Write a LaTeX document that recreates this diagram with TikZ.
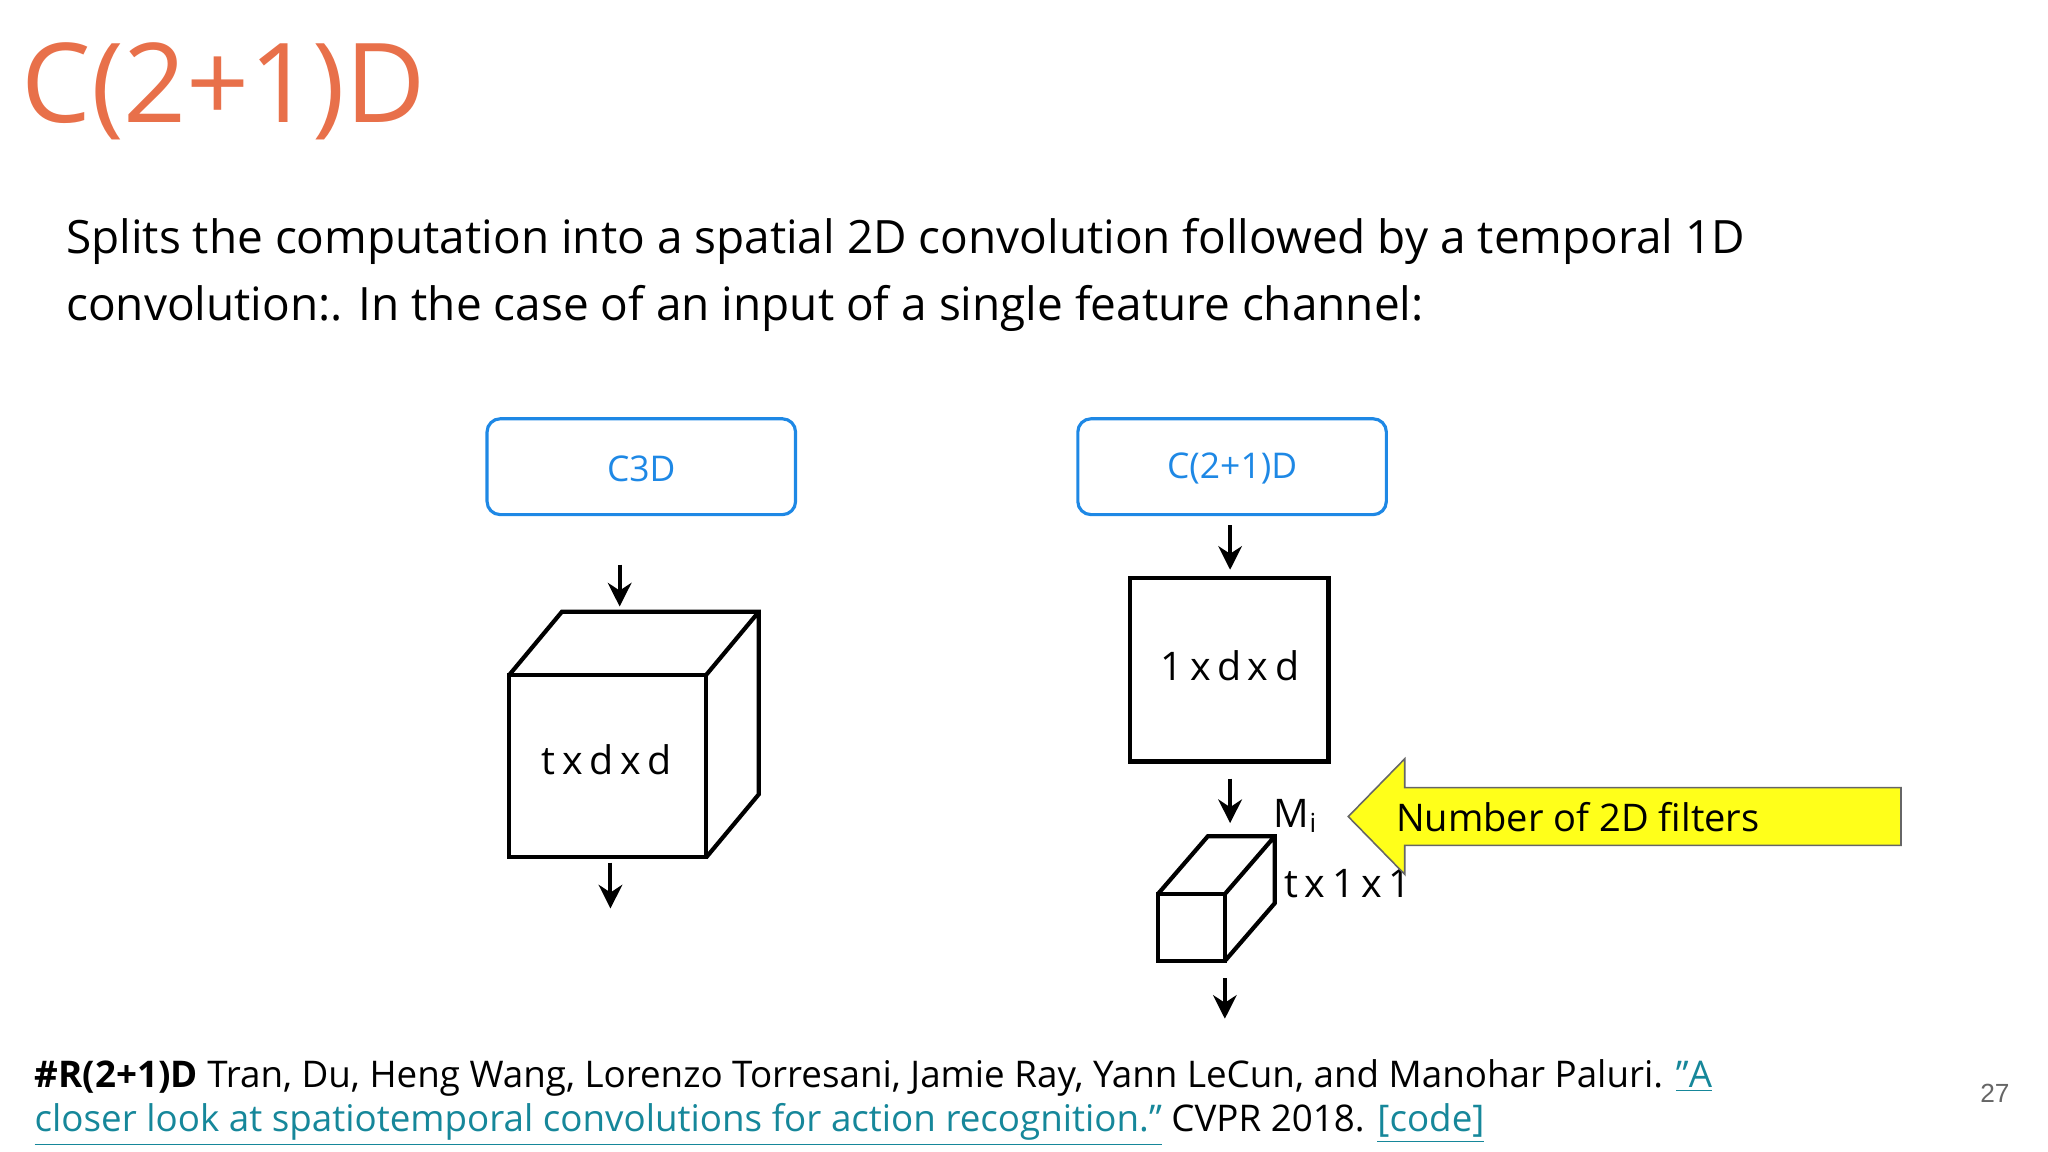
\documentclass[tikz,border=0pt]{standalone}
\usepackage{fontspec}
\setmainfont{Open Sans}
\newfontfamily\arialf{Liberation Sans}
\usetikzlibrary{arrows.meta}
\definecolor{titleor}{HTML}{E8704A}
\definecolor{boxblue}{HTML}{1E88E5}
\definecolor{linkc}{HTML}{16879A}
\definecolor{yel}{HTML}{FFFF1A}
\begin{document}
\begin{tikzpicture}[x=0.5pt,y=-0.5pt,
  lbox/.style={draw=boxblue,line width=1.2pt,rounded corners=5pt},
  flow/.style={line width=1.5pt,-{Stealth[length=9pt,width=9pt]}},
  cube/.style={line width=1.6pt,line join=miter},
  txt/.style={inner sep=0pt,anchor=base west}]
\useasboundingbox (0,0) rectangle (1560,877.5);
\node[txt,text=titleor,font=\fontsize{42}{50}\selectfont] (title) at (16,93) {C(2+1)D};
\node[txt,font=\fontsize{17.5}{21}\selectfont] (l1) at (50,193) {Splits the computation into a spatial 2D convolution followed by a temporal 1D};
\node[txt,font=\fontsize{17.5}{21}\selectfont] (l2) at (50,244) {convolution:. In the case of an input of a single feature channel:};
% boxes
\draw[lbox] (371,319) rectangle (606,392);
\node[text=boxblue,font=\fontsize{13.5}{16}\selectfont] (c3d) at (488.5,357) {C3D};
\draw[lbox] (821,319) rectangle (1056,392);
\node[text=boxblue,font=\fontsize{13.5}{16}\selectfont] (c21) at (938.5,357) {C(2+1)D};
% big cube
\draw[cube] (388,514) rectangle (538,653);
\draw[cube] (388,514) -- (428,466) -- (578,466) -- (578,605) -- (538,653) (538,514) -- (578,466);
\node[font=\fontsize{15}{18}\selectfont] (bt) at (462,579) {t\,x\,d\,x\,d};
\coordinate (a1s) at (472,430); \coordinate (a1e) at (472,462);
\coordinate (a2s) at (465,657); \coordinate (a2e) at (465,692);
\draw[flow] (a1s) -- (a1e);
\draw[flow] (a2s) -- (a2e);
% right
\coordinate (b1s) at (937,400); \coordinate (b1e) at (937,434);
\draw[flow] (b1s) -- (b1e);
\draw[cube] (861,440) rectangle (1012,580);
\node[font=\fontsize{15}{18}\selectfont] (sq) at (937,507) {1\,x\,d\,x\,d};
\coordinate (b2s) at (937,593); \coordinate (b2e) at (937,627);
\draw[flow] (b2s) -- (b2e);
\node[txt,font=\fontsize{15}{18}\selectfont] (mi) at (970,630) {M\raisebox{-0.15em}{\fontsize{10}{12}\selectfont i}};
\draw[cube] (882,681) rectangle (933,732);
\draw[cube] (882,681) -- (920,637) -- (971,637) -- (971,688) -- (933,732) (933,681) -- (971,637);
\node[txt,font=\fontsize{15}{18}\selectfont] (t11) at (978,684) {t\,x\,1\,x\,1};
\coordinate (b3s) at (933,745); \coordinate (b3e) at (933,776);
\draw[flow] (b3s) -- (b3e);
% yellow arrow
\draw[fill=yel,draw=black!60,line width=0.6pt] (1448,600) -- (1070,600) -- (1070,578) -- (1027,622) -- (1070,666) -- (1070,644) -- (1448,644) -- cycle;
\node[txt,font=\fontsize{14.5}{17}\selectfont] (nf) at (1063,633) {Number of 2D filters};
% footer
\node[txt,font=\fontsize{14}{17}\selectfont] (f1) at (26,828) {\textbf{\#R(2+1)D} Tran, Du, Heng Wang, Lorenzo Torresani, Jamie Ray, Yann LeCun, and Manohar Paluri. \textcolor{linkc}{\underline{"A}}};
\node[txt,font=\fontsize{14}{17}\selectfont] (f2) at (26,862) {\textcolor{linkc}{\underline{closer look at spatiotemporal convolutions for action recognition."}} CVPR 2018. \textcolor{linkc}{\underline{[code]}}};
\node[txt,text=black!60,font=\arialf\fontsize{10}{12}\selectfont] (pg) at (1508,840) {27};
\end{tikzpicture}
\end{document}
